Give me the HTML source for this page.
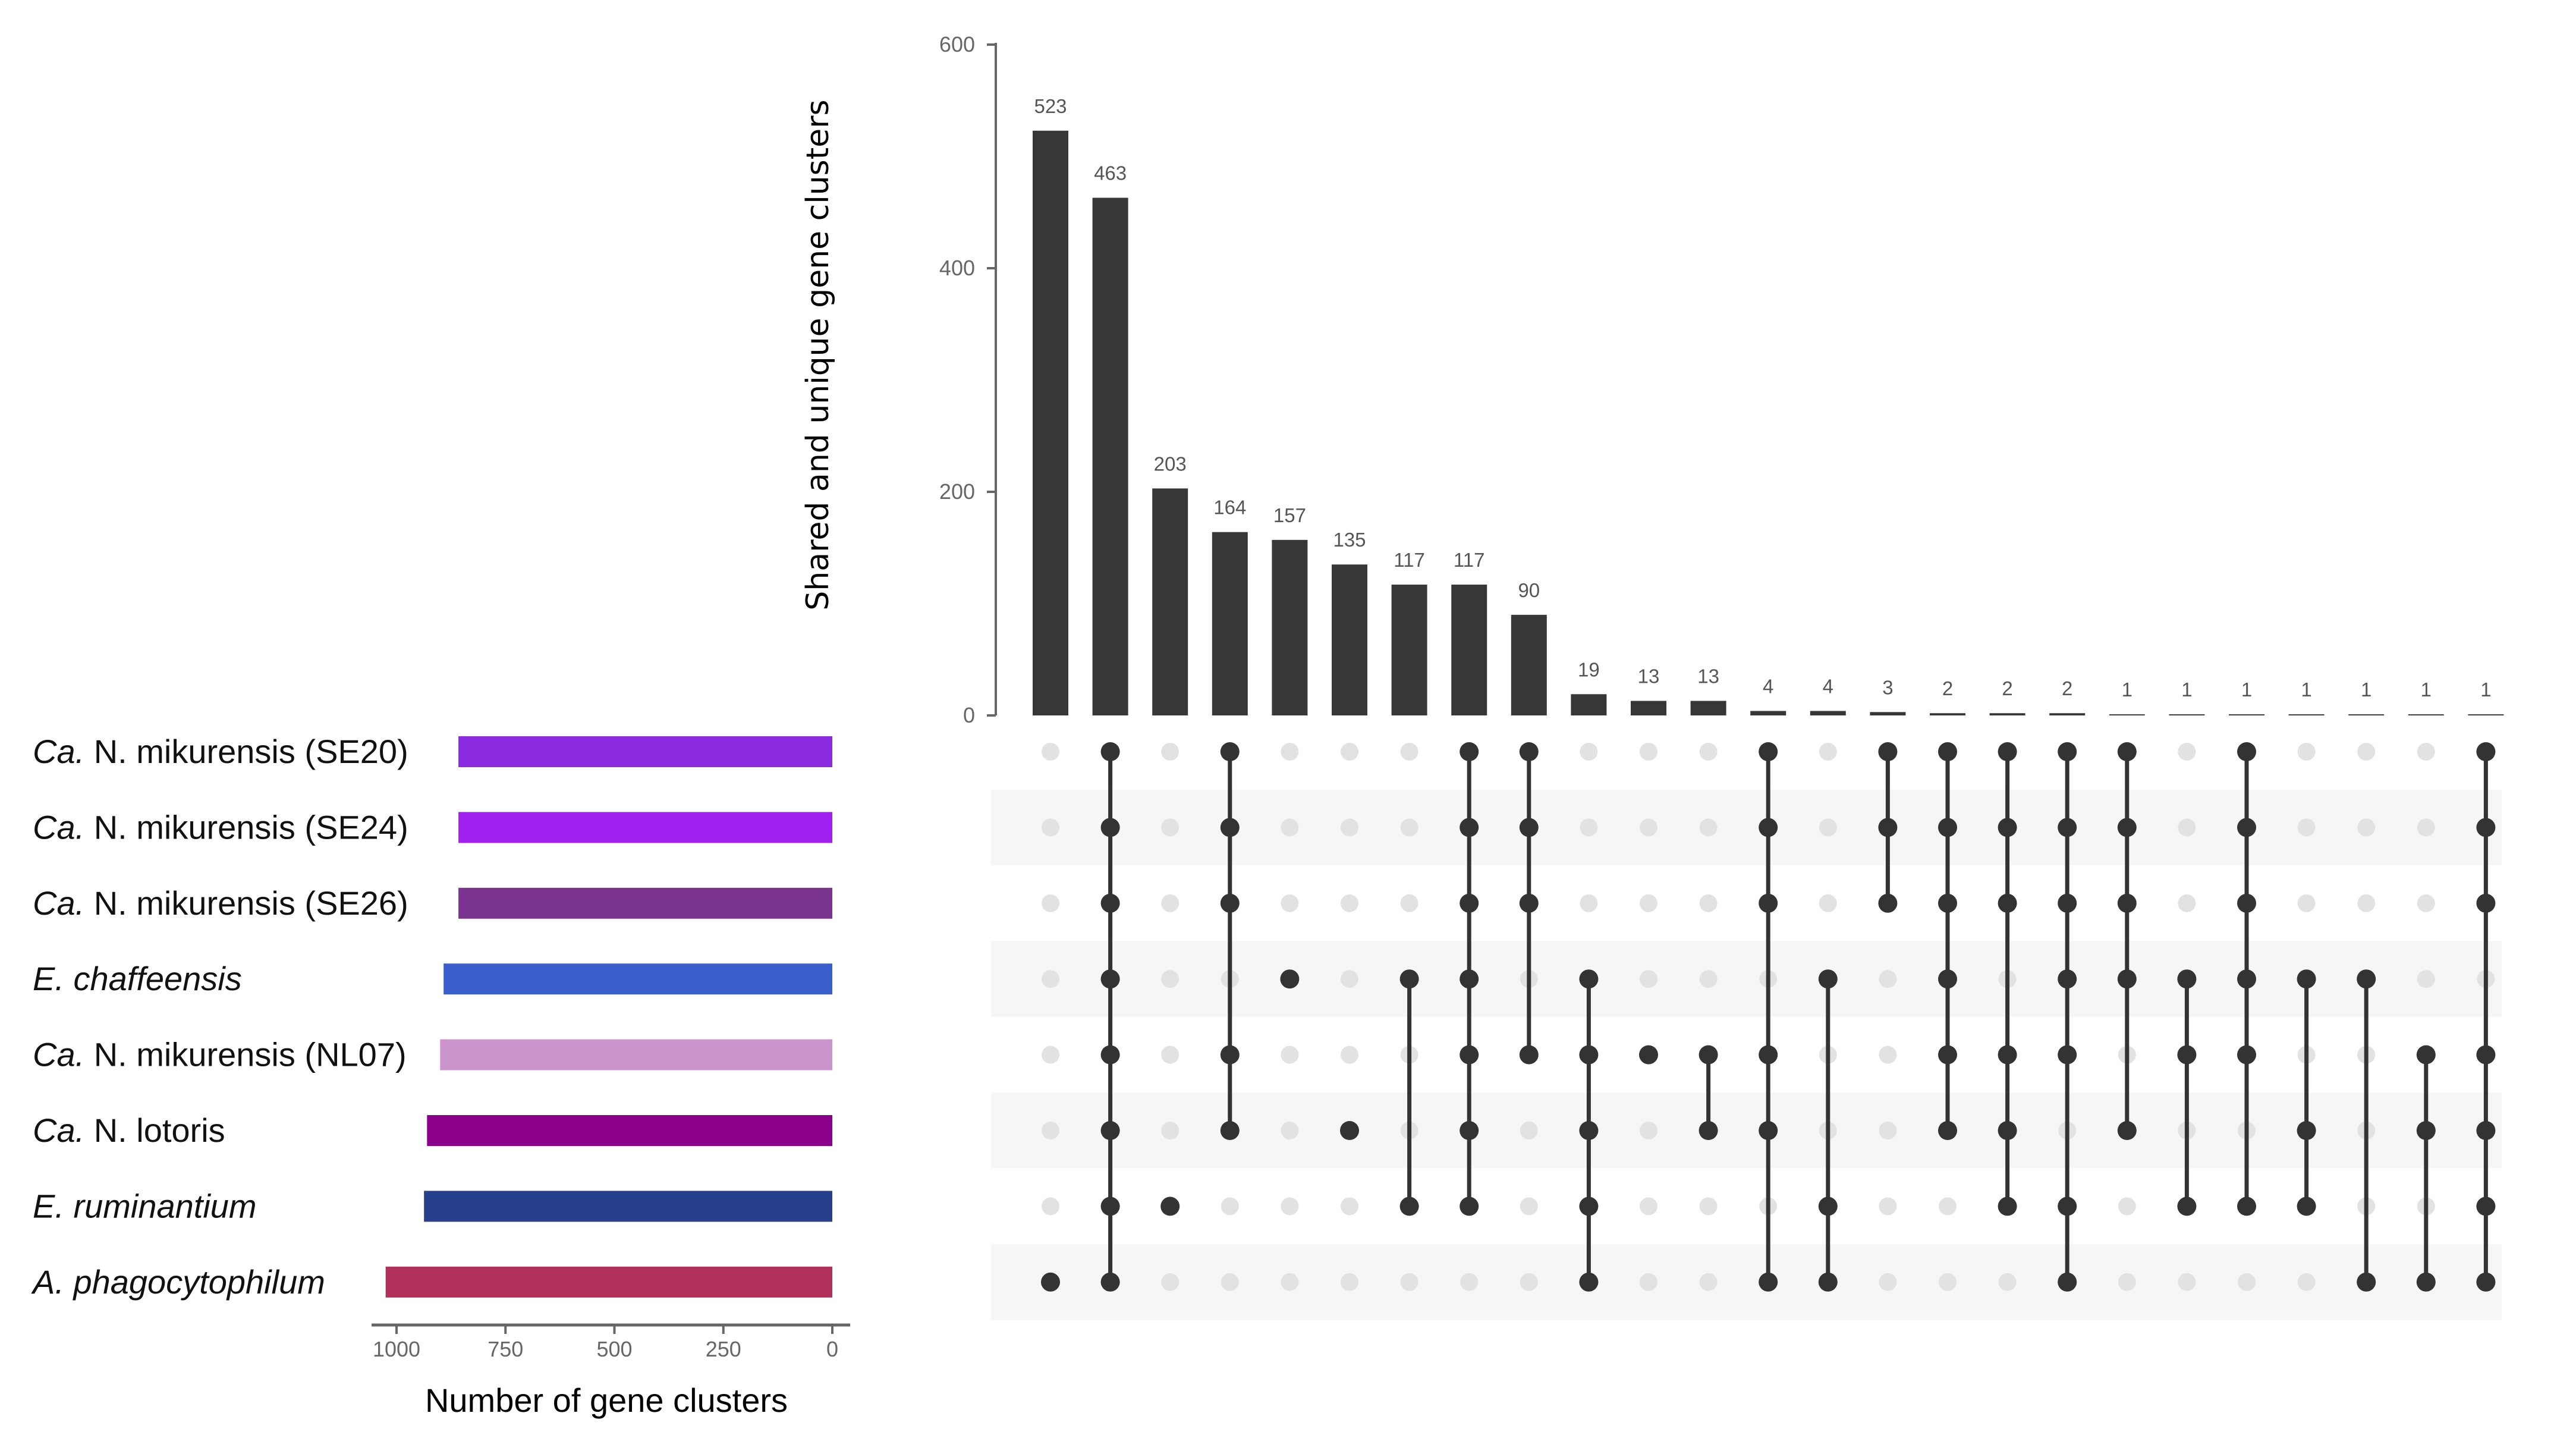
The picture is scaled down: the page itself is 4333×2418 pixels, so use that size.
<!DOCTYPE html>
<html><head><meta charset="utf-8"><style>
html,body{margin:0;padding:0;background:#fff;}
svg{display:block;}
</style></head><body>
<svg id="chart" width="4333" height="2418" viewBox="0 0 4333 2418" xmlns="http://www.w3.org/2000/svg" font-family="Liberation Sans, sans-serif">
<g id="stripes"></g>
<g id="yaxis"></g>
<g id="bars"></g>
<g id="matrix"></g>
<g id="setbars"></g>
<text transform="translate(1393,597) rotate(-90)" text-anchor="middle" font-size="52" font-family="DejaVu Sans, Liberation Sans, sans-serif" fill="#000">Shared and unique gene clusters</text>
<text x="1020" y="2374" text-anchor="middle" font-size="56" fill="#000">Number of gene clusters</text>
</svg>
<script>
const intersectionCounts = [523,463,203,164,157,135,117,117,90,19,13,13,4,4,3,2,2,2,1,1,1,1,1,1,1];
const memberships = [[7],[0,1,2,3,4,5,6,7],[6],[0,1,2,4,5],[3],[5],[3,6],[0,1,2,3,4,5,6],[0,1,2,4],[3,4,5,6,7],[4],[4,5],[0,1,2,4,5,7],[3,6,7],[0,1,2],[0,1,2,3,4,5],[0,1,2,4,5,6],[0,1,2,3,4,6,7],[0,1,2,3,5],[3,4,6],[0,1,2,3,4,6],[3,5,6],[3,7],[4,5,7],[0,1,2,4,5,6,7]];
const setNames = ["N. mikurensis (SE20)","N. mikurensis (SE24)","N. mikurensis (SE26)","E. chaffeensis","N. mikurensis (NL07)","N. lotoris","E. ruminantium","A. phagocytophilum"];
const setPrefix = ["Ca.","Ca.","Ca.","","Ca.","Ca.","",""];
const setSizes = [858,858,858,892,900,930,937,1025];
const setColors = ["#8a2be2","#a020f0","#7b3590","#3a5fcd","#cc94cc","#8b008b","#27408b","#b0305a"];
const yTicks = [0,200,400,600];
const xTicks = [1000,750,500,250,0];

const NS="http://www.w3.org/2000/svg";
function mk(tag,attrs,parent){const e=document.createElementNS(NS,tag);for(const k in attrs)e.setAttribute(k,attrs[k]);parent.appendChild(e);return e;}
const y0=1203, yScale=(v)=>y0-v*(1128/600);
const colX=(i)=>1767+i*100.6;
const rowY=(r)=>1264+r*127.4;
const sx0=1400, sScale=(v)=>sx0-v*0.733;

const stripes=document.getElementById('stripes');
for(let r=1;r<8;r+=2){const s=mk('rect',{x:1667,y:rowY(r)-63.7,width:2541,height:127.4,fill:'#f6f6f6'},stripes);

}

const ya=document.getElementById('yaxis');
mk('line',{x1:1675,y1:72,x2:1675,y2:y0,stroke:'#666','stroke-width':4},ya);
yTicks.forEach(t=>{mk('line',{x1:1660,y1:yScale(t),x2:1675,y2:yScale(t),stroke:'#666','stroke-width':4},ya);
const tx=mk('text',{x:1640,y:yScale(t)+12,'text-anchor':'end','font-size':36,fill:'#666'},ya);tx.textContent=t;

});

const bars=document.getElementById('bars');
intersectionCounts.forEach((v,i)=>{const x=colX(i);
const b=mk('rect',{x:x-30,y:yScale(v),width:60,height:y0-yScale(v),fill:'#373737'},bars);


const l=mk('text',{x:x,y:yScale(v)-30,'text-anchor':'middle','font-size':33,fill:'#555'},bars);l.textContent=v;

});

const mat=document.getElementById('matrix');
memberships.forEach((m,i)=>{const x=colX(i);
for(let r=0;r<8;r++){if(!m.includes(r)){const d=mk('circle',{cx:x,cy:rowY(r),r:15,fill:'#e2e2e2'},mat);

}}
const mn=Math.min(...m),mx=Math.max(...m);
if(mx>mn){const ln=mk('line',{x1:x,y1:rowY(mn),x2:x,y2:rowY(mx),stroke:'#333','stroke-width':7},mat);

}
m.forEach(r=>{const d=mk('circle',{cx:x,cy:rowY(r),r:16,fill:'#333'},mat);

});});

const sb=document.getElementById('setbars');
setSizes.forEach((v,r)=>{const y=rowY(r);
const b=mk('rect',{x:sScale(v),y:y-26,width:sx0-sScale(v),height:52,fill:setColors[r]},sb);


const t=mk('text',{x:55,y:y+19,'font-size':56,fill:'#111','font-family':'Liberation Sans Narrow, Liberation Sans, sans-serif'},sb);


if(setPrefix[r]){const p=mk('tspan',{'font-style':'italic'},t);p.textContent=setPrefix[r]+' ';const q=mk('tspan',{},t);q.textContent=setNames[r];}
else{const p=mk('tspan',{'font-style':'italic'},t);p.textContent=setNames[r];}});
mk('line',{x1:625,y1:2228,x2:1430,y2:2228,stroke:'#666','stroke-width':5},sb);
xTicks.forEach(t=>{const x=sScale(t);mk('line',{x1:x,y1:2228,x2:x,y2:2243,stroke:'#666','stroke-width':4},sb);
const tx=mk('text',{x:x,y:2281,'text-anchor':'middle','font-size':36,fill:'#666'},sb);tx.textContent=t;

});
</script>
</body></html>
